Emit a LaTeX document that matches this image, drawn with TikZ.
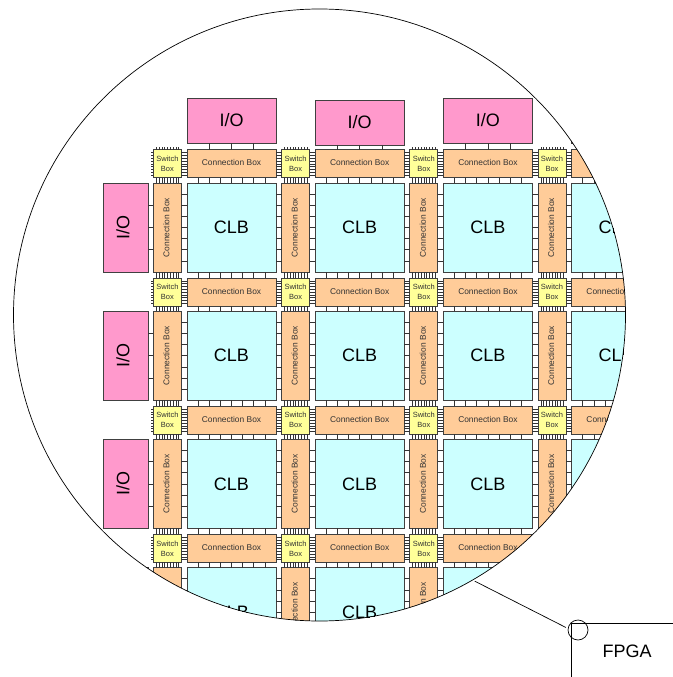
\documentclass[tikz,border=0pt]{standalone}
\usepackage{fontspec}
\setmainfont{Liberation Sans}
\usetikzlibrary{calc}
\definecolor{iopink}{HTML}{FF99CC}
\definecolor{clbcyan}{HTML}{CCFFFF}
\definecolor{cbtan}{HTML}{FFCC99}
\definecolor{sbyellow}{HTML}{FFFF99}
\tikzset{
	block/.style={draw=black!75, line width=0.9pt, rectangle, inner sep=0pt, outer sep=0pt},
	iobox/.style={block, fill=iopink, font=\fontsize{18}{20}\selectfont},
	clbbox/.style={block, fill=clbcyan, minimum width=89pt, minimum height=89pt, font=\fontsize{18}{20}\selectfont},
	cbbox/.style={block, fill=cbtan, text=black!80, font=\fontsize{8.4}{10}\selectfont},
	sbbox/.style={block, fill=sbyellow, text=black!80, align=center, minimum width=28pt, minimum height=28pt, font=\fontsize{7.5}{10}\selectfont},
	wire/.style={draw=black!80, line width=0.6pt}
}
% n wires, spread along one side of #1, out to the target #5
\newcommand{\wires}[6]{
	\foreach \k in {1,...,#6}{
		\pgfmathsetmacro{\f}{\k/(#6+1)}
		\coordinate (t) at ($(#1.#2)!\f!(#1.#3)$);
		\draw[wire] (t) -- (t #4 #5);
	}
}
\begin{document}
\begin{tikzpicture}[x=1pt, y=-1pt]
	\useasboundingbox (0,0) rectangle (672,677);
	\coordinate (O) at (319.5,315);

	\begin{scope}
		\clip (O) circle[radius=306];

		\foreach \col in {0,...,3}{
			\foreach \row in {0,...,3}{
				\node[sbbox] (sb-\col-\row) at ({167.4+128.2*\col},{163.8+128.2*\row}) {Switch\\Box};
				\node[cbbox, minimum width=89pt, minimum height=28pt] (cbh-\col-\row) at ({231.5+128.2*\col},{163.8+128.2*\row}) {\raisebox{2pt}{Connection Box}};
				\node[cbbox, minimum width=28pt, minimum height=89pt] (cbv-\col-\row) at ({167.4+128.2*\col},{227.5+128.2*\row}) {\rotatebox{90}{Connection Box}\rule{2pt}{0pt}};
				\node[clbbox] (clb-\col-\row) at ({231.5+128.2*\col},{227.5+128.2*\row}) {CLB};
			}
		}

		\foreach \col/\yy in {0/121, 1/122.7, 2/121, 3/121}{
			\node[iobox, minimum width=89pt, minimum height=44.5pt] (iot-\col) at ({231.5+128.2*\col},\yy) {\raisebox{2pt}{I/O}};
			\wires{iot-\col}{south west}{south east}{|-}{cbh-\col-0.north}{3}
			\coordinate (stub-\col) at ([yshift=2.5pt]sb-\col-0.north);
			\wires{sb-\col-0}{north west}{north east}{|-}{stub-\col}{9}
		}
		\foreach \row in {0,...,3}{
			\node[iobox, minimum width=45pt, minimum height=89pt] (iol-\row) at (125.5,{227.5+128.2*\row}) {\rotatebox{90}{I/O}\rule{5pt}{0pt}};
			\wires{iol-\row}{south east}{north east}{-|}{cbv-0-\row.west}{3}
			\coordinate (stubl-\row) at ([xshift=-2.5pt]sb-0-\row.west);
			\wires{sb-0-\row}{south west}{north west}{-|}{stubl-\row}{9}
		}

		\foreach \col in {0,...,3}{
			\foreach \row in {0,...,3}{
				\wires{sb-\col-\row}{south east}{north east}{-|}{cbh-\col-\row.west}{9}
				\wires{sb-\col-\row}{south west}{south east}{|-}{cbv-\col-\row.north}{9}
				\wires{clb-\col-\row}{north west}{north east}{|-}{cbh-\col-\row.south}{7}
				\wires{clb-\col-\row}{south west}{north west}{-|}{cbv-\col-\row.east}{7}
			}
		}
		\foreach \col [evaluate=\col as \nxt using int(\col+1)] in {0,1,2}{
			\foreach \row in {0,...,3}{
				\wires{sb-\nxt-\row}{south west}{north west}{-|}{cbh-\col-\row.east}{9}
				\wires{clb-\col-\row}{south east}{north east}{-|}{cbv-\nxt-\row.west}{7}
			}
		}
		\foreach \row [evaluate=\row as \nxt using int(\row+1)] in {0,1,2}{
			\foreach \col in {0,...,3}{
				\wires{sb-\col-\nxt}{north west}{north east}{|-}{cbv-\col-\row.south}{9}
				\wires{clb-\col-\row}{south west}{south east}{|-}{cbh-\col-\nxt.north}{7}
			}
		}
	\end{scope}

	\node[draw, circle, line width=0.7pt, inner sep=0pt, outer sep=0pt, minimum size=612pt] (lens) at (O) {};

	\node[draw, line width=0.7pt, rectangle, inner sep=0pt, outer sep=0pt, minimum width=111pt, minimum height=55pt, font=\fontsize{18}{20}\selectfont] (fpga) at (627,651) {FPGA};
	\node[draw, circle, line width=0.7pt, inner sep=0pt, outer sep=0pt, minimum size=20pt] (corner) at (578,630) {};

	\draw[line width=0.7pt, shorten >=2.5pt, shorten <=2.5pt] (lens.-60.6) -- (corner.172);
\end{tikzpicture}
\end{document}
